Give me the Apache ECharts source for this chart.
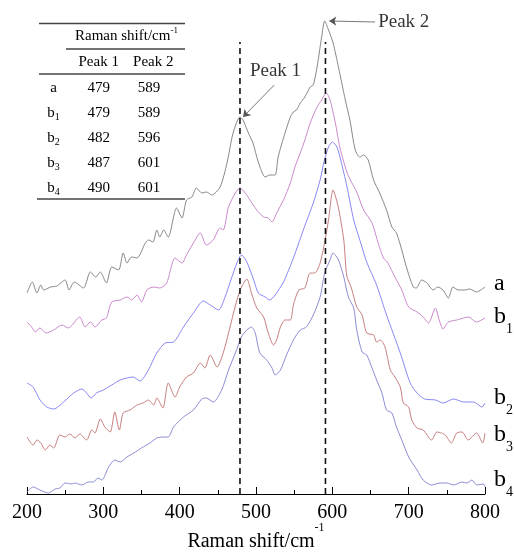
<!DOCTYPE html>
<html><head><meta charset="utf-8">
<script src="https://cdn.jsdelivr.net/npm/echarts@6/dist/echarts.min.js"></script>
<style>html,body{margin:0;padding:0;background:#fff}#c{width:514px;height:552px}</style>
</head><body><div id="c"></div>
<script>
const FONT = '"Liberation Serif", "Times New Roman", serif';

// ---- spectra (Raman shift, intensity a.u. offset-stacked) ----
const shiftA = [200,207,213,218,222,231,239,250,255,262,274,283,290,296,304,311,320,326,331,337,344,355,359,365,370,374,379,385,396,403,409,416,422,429,435,442,453,462,470,479,483,490,496,503,512,518,525,529,538,545,549,553,558,564,571,575,580,586,590,595,601,608,617,623,630,636,641,647,654,662,671,678,684,691,697,706,710,717,724,732,738,745,752,758,765,774,780,789,800];
const intA = [201,212,201,209,204,207,208,214,204,212,206,222,217,222,211,227,224,241,231,237,236,251,254,252,264,257,264,257,286,276,294,297,306,301,302,299,307,331,361,377,374,361,351,332,317,319,319,337,361,377,382,384,391,397,407,409,427,457,473,464,451,427,394,374,344,337,339,334,314,301,284,267,261,244,227,207,206,214,211,204,207,204,196,207,204,204,205,202,207];

const shiftB1 = [200,206,211,217,225,235,246,254,269,276,283,289,298,304,311,322,331,337,344,350,357,366,374,383,394,403,409,418,427,435,444,453,457,464,473,479,486,492,501,510,516,521,527,536,545,551,558,564,571,580,586,592,597,604,610,619,625,632,641,652,660,667,672,682,691,700,711,719,726,735,740,745,752,763,772,778,789,800];
const intB1 = [172,167,162,166,161,164,169,166,177,167,172,167,174,176,192,194,197,194,199,192,204,207,206,211,236,231,239,251,261,249,254,266,264,287,301,306,301,294,284,277,276,272,281,294,311,327,341,354,371,387,394,401,394,371,346,322,312,302,284,271,251,236,232,217,204,187,182,177,171,186,174,165,172,174,176,177,172,176];

const shiftB2 = [200,208,217,226,235,248,261,272,278,284,291,300,311,322,339,348,359,370,381,392,405,418,431,440,451,459,468,475,481,488,497,503,512,518,525,536,549,562,575,584,589,595,600,606,611,619,628,636,645,658,671,689,702,711,721,735,745,759,772,785,796,800];
const intB2 = [111,107,94,87,85,92,101,105,101,96,101,104,109,114,117,113,124,141,151,152,167,181,193,189,184,196,216,231,239,232,214,201,197,194,199,212,236,264,291,314,332,347,352,347,334,308,274,254,232,209,179,141,111,101,95,94,91,95,92,92,87,91];

const shiftB3 = [200,208,213,218,224,230,235,243,250,256,263,269,278,285,289,296,302,309,315,321,326,335,344,352,359,366,370,378,385,394,400,409,418,427,433,440,449,457,466,475,481,488,494,501,510,516,523,527,532,538,545,549,556,564,571,577,584,590,595,601,608,615,619,625,632,639,645,654,658,663,669,676,682,689,693,700,704,711,719,730,737,743,748,756,763,770,778,789,797,800];
const intB3 = [57,49,54,51,44,49,46,59,57,60,56,60,54,64,61,75,67,62,82,64,81,84,89,91,94,89,96,86,111,97,107,117,121,131,126,139,127,141,167,194,207,215,201,186,177,161,149,154,167,174,174,189,204,206,221,221,231,252,274,304,286,254,218,206,187,179,161,159,152,154,147,124,117,107,91,87,74,66,64,54,62,61,59,51,61,62,54,61,51,61];

const shiftB4 = [200,208,217,228,237,243,250,259,263,272,280,287,293,298,307,315,322,331,342,350,361,370,379,385,392,405,418,429,435,444,455,464,473,481,488,494,499,505,514,521,525,532,540,549,558,566,575,584,590,597,601,608,615,621,628,632,639,645,652,658,665,671,678,684,691,700,711,719,730,741,750,759,770,776,783,789,798,800];
const intB4 = [2,7,4,1,5,6,11,10,11,9,12,12,16,14,27,34,32,37,42,46,51,56,57,57,67,77,84,95,96,92,104,124,141,157,164,167,161,141,134,126,119,124,139,154,164,167,179,197,221,234,241,234,217,197,186,164,142,139,126,114,101,84,81,67,54,37,24,14,9,11,11,9,12,11,14,9,10,7];

// ---- labels / annotations ----
const curveNames = ['a', 'b1', 'b2', 'b3', 'b4'];
const xTicks = [200, 300, 400, 500, 600, 700, 800];
const peakLinePos = [479, 591];
const dashTop = 452;

// ---- inset table ----
const tableRows = ['a', 'b1', 'b2', 'b3', 'b4'];
const peak1Vals = ['479', '479', '482', '487', '490'];
const peak2Vals = ['589', '589', '596', '601', '601'];

function zip(xs, ys) { return xs.map((x, i) => [x, ys[i]]); }
function nameRich(n) {
  return n.length > 1 ? '{m|' + n[0] + '}{s|' + n.slice(1) + '}' : '{m|' + n + '}';
}

const curves = [
  { x: shiftA, y: intA, color: '#7a7a7a', off: -3 },
  { x: shiftB1, y: intB1, color: '#c47ac4', off: -1 },
  { x: shiftB2, y: intB2, color: '#7b7bf2', off: -5 },
  { x: shiftB3, y: intB3, color: '#c27070', off: 2 },
  { x: shiftB4, y: intB4, color: '#7f7fd0', off: -7 }
];

const series = curves.map((c, i) => ({
  type: 'line',
  data: zip(c.x, c.y),
  symbol: 'none',
  smooth: 0.25,
  lineStyle: { color: c.color, width: 0.9 },
  clip: false,
  z: 3,
  endLabel: {
    show: true,
    distance: 9,
    offset: [0, c.off],
    formatter: nameRich(curveNames[i]),
    rich: {
      m: { fontSize: 24, fontFamily: FONT, color: '#000', lineHeight: 40 },
      s: { fontSize: 14, fontFamily: FONT, color: '#000', lineHeight: 14, padding: [24, 0, 0, 0] }
    }
  }
}));

peakLinePos.forEach(p => {
  series.push({
    type: 'line',
    data: [[p, 0], [p, dashTop]],
    symbol: 'none',
    lineStyle: { color: '#111', width: 1.6, type: [6, 4] },
    z: 4
  });
});

series.push({
  type: 'lines',
  coordinateSystem: 'cartesian2d',
  symbol: ['none', 'arrow'],
  symbolSize: 7,
  lineStyle: { color: '#555', width: 0.8, opacity: 1 },
  z: 5,
  data: [
    { coords: [[656, 472], [596, 473]] },
    { coords: [[524, 409], [483, 377]] }
  ]
});

series.push({
  type: 'scatter',
  symbolSize: 0,
  z: 5,
  data: [
    { value: [660, 472], name: 'Peak 2' },
    { value: [492, 423], name: 'Peak 1' }
  ],
  label: {
    show: true, position: 'right', distance: 0,
    formatter: '{b}', fontSize: 19, fontFamily: FONT, color: '#000'
  }
});

// table graphics
const g = [];
const lineStyle = { stroke: '#444', lineWidth: 1.3 };
[[39, 185, 23.5], [66, 185, 49], [39, 185, 74], [37, 185, 199]].forEach(l => {
  g.push({ type: 'line', shape: { x1: l[0], y1: l[2], x2: l[1], y2: l[2] }, style: lineStyle, silent: true });
});
function txt(x, y, text, align, rich) {
  const st = { x: x, y: y, text: text, font: '15px ' + FONT, fill: '#000',
    align: align, verticalAlign: 'middle', textAlign: align, textVerticalAlign: 'middle' };
  if (rich) st.rich = rich;
  return { type: 'text', style: st, silent: true };
}
g.push(txt(75, 36, '{t|Raman shift/cm}{u|-1}', 'left', {
  t: { fontSize: 15, fontFamily: FONT, lineHeight: 20, fill: '#000' },
  u: { fontSize: 9, fontFamily: FONT, lineHeight: 9, padding: [0, 0, 10, 0], fill: '#000' }
}));
g.push(txt(98.7, 62, 'Peak 1', 'center'));
g.push(txt(153.3, 62, 'Peak 2', 'center'));
const rowRich = {
  m: { fontSize: 15, fontFamily: FONT, lineHeight: 20, fill: '#000' },
  s: { fontSize: 10, fontFamily: FONT, lineHeight: 10, padding: [8, 0, 0, 0], fill: '#000' }
};
tableRows.forEach((r, i) => {
  const y = 88 + 25 * i;
  g.push(txt(53.5, y, nameRich(r), 'center', rowRich));
  g.push(txt(98.7, y, peak1Vals[i], 'center'));
  g.push(txt(149, y, peak2Vals[i], 'center'));
});

const chart = echarts.init(document.getElementById('c'), null, { renderer: 'canvas' });
chart.setOption({
  animation: false,
  backgroundColor: '#fff',
  grid: { left: 27, right: 29, top: 14, bottom: 58, outerBoundsMode: 'none', containLabel: false },
  xAxis: {
    type: 'value', min: xTicks[0], max: xTicks[xTicks.length - 1], interval: 100,
    axisLine: { show: true, onZero: false, lineStyle: { color: '#000', width: 1 } },
    axisTick: { show: true, inside: true, length: 7, lineStyle: { color: '#000', width: 1 } },
    minorTick: { show: true, splitNumber: 2, length: 4, lineStyle: { color: '#000', width: 1 } },
    splitLine: { show: false },
    axisLabel: { fontSize: 20, fontFamily: FONT, color: '#000', margin: 9 },
    name: '{n|Raman shift/cm}{u|-1}',
    nameLocation: 'middle',
    nameGap: 35,
    nameMoveOverlap: false,
    nameTextStyle: {
      rich: {
        n: { fontSize: 20, fontFamily: FONT, color: '#000', lineHeight: 26 },
        u: { fontSize: 12, fontFamily: FONT, color: '#000', lineHeight: 12, padding: [0, 0, 28, 0] }
      }
    }
  },
  yAxis: { type: 'value', min: 0, max: 480, show: false },
  series: series,
  graphic: g
});
</script></body></html>
